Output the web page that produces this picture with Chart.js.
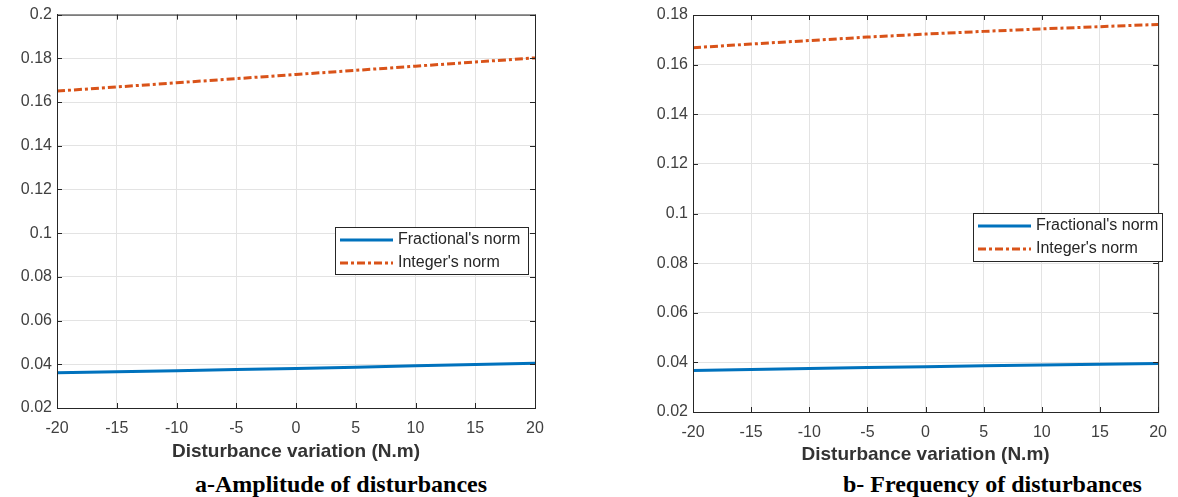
<!DOCTYPE html>
<html>
<head>
<meta charset="utf-8">
<script src="https://cdn.jsdelivr.net/npm/chart.js@4/dist/chart.umd.min.js"></script>
<style>
  body { margin: 0; background: #fff; width: 1178px; height: 497px; position: relative; overflow: hidden; }
  .box { position: absolute; top: 0; height: 470px; }
  .caption { position: absolute; top: 471px; font: bold 24px "Liberation Serif", "Times New Roman", serif; color: #000; white-space: nowrap; }
</style>
</head>
<body>
<div class="box" style="left:0;width:560px"><canvas id="chartA"></canvas></div>
<div class="box" style="left:600px;width:578px"><canvas id="chartB"></canvas></div>
<div class="caption" style="left:195px">a-Amplitude of disturbances</div>
<div class="caption" style="left:843px">b- Frequency of disturbances</div>
<script>
// disturbance variation (N.m)
const variation = [-20, -15, -10, -5, 0, 5, 10, 15, 20];

// a - amplitude of disturbances
const amplitudeFractional = [0.0361, 0.0366, 0.0371, 0.0376, 0.0381, 0.0387, 0.0393, 0.0399, 0.0405];
const amplitudeInteger = [0.1650, 0.1669, 0.1688, 0.1707, 0.1726, 0.1745, 0.1764, 0.1783, 0.1802];

// b - frequency of disturbances
const frequencyFractional = [0.0367, 0.0371, 0.0375, 0.0379, 0.0382, 0.0386, 0.0389, 0.0392, 0.0395];
const frequencyInteger = [0.1668, 0.1683, 0.1697, 0.1711, 0.1723, 0.1734, 0.1744, 0.1753, 0.1762];

const seriesNames = ["Fractional's norm", "Integer's norm"];
const xTitle = 'Disturbance variation (N.m)';

const BLUE = '#0072BD';
const ORANGE = '#D95319';
const AXIS = '#262626';

// box around the axes + inward ticks, like matlab
const framePlugin = {
  id: 'frame',
  afterDatasetsDraw(chart) {
    const { ctx, chartArea: a, scales } = chart;
    ctx.save();
    ctx.strokeStyle = AXIS;
    ctx.lineWidth = 1;
    ctx.strokeRect(a.left + 0.5, a.top + 0.5, a.right - a.left, a.bottom - a.top);
    ctx.beginPath();
    scales.x.ticks.forEach(t => {
      const px = Math.round(scales.x.getPixelForValue(t.value)) + 0.5;
      ctx.moveTo(px, a.bottom); ctx.lineTo(px, a.bottom - 5);
      ctx.moveTo(px, a.top); ctx.lineTo(px, a.top + 5);
    });
    scales.y.ticks.forEach(t => {
      const py = Math.round(scales.y.getPixelForValue(t.value)) + 0.5;
      ctx.moveTo(a.left, py); ctx.lineTo(a.left + 5, py);
      ctx.moveTo(a.right, py); ctx.lineTo(a.right - 5, py);
    });
    ctx.stroke();
    ctx.restore();
  }
};

// legend drawn inside the plot area
const boxLegend = {
  id: 'boxLegend',
  afterDraw(chart, args, opts) {
    const { ctx } = chart;
    const { x, y, w, h } = opts;
    ctx.save();
    ctx.fillStyle = '#fff';
    ctx.fillRect(x, y, w, h);
    ctx.strokeStyle = AXIS;
    ctx.lineWidth = 1;
    ctx.strokeRect(x + 0.5, y + 0.5, w, h);
    chart.data.datasets.forEach((ds, i) => {
      const cy = y + 13 + i * 23;
      ctx.beginPath();
      ctx.strokeStyle = ds.borderColor;
      ctx.lineWidth = ds.borderWidth;
      ctx.setLineDash(ds.borderDash || []);
      ctx.moveTo(x + 5, cy);
      ctx.lineTo(x + 58, cy);
      ctx.stroke();
      ctx.setLineDash([]);
      ctx.fillStyle = AXIS;
      ctx.font = '16px "Liberation Sans", Arial, sans-serif';
      ctx.textBaseline = 'middle';
      ctx.fillText(ds.label, x + 63, cy);
    });
    ctx.restore();
  }
};

function makeChart(id, fractional, integer, yMax, geom) {
  const ctx = document.getElementById(id).getContext('2d');
  return new Chart(ctx, {
    type: 'line',
    data: {
      labels: variation,
      datasets: [
        {
          label: seriesNames[0],
          data: variation.map((v, i) => ({ x: v, y: fractional[i] })),
          borderColor: BLUE,
          borderWidth: 3,
          pointRadius: 0,
        },
        {
          label: seriesNames[1],
          data: variation.map((v, i) => ({ x: v, y: integer[i] })),
          borderColor: ORANGE,
          borderWidth: 3,
          borderDash: [8, 3, 3, 3],
          pointRadius: 0,
        },
      ],
    },
    options: {
      responsive: false,
      animation: false,
      maintainAspectRatio: false,
      layout: { padding: { top: geom.top, right: geom.right, left: 0, bottom: 0 } },
      scales: {
        x: {
          type: 'linear',
          min: -20,
          max: 20,
          ticks: {
            stepSize: 5,
            padding: 11,
            color: '#404040',
            font: { family: '"Liberation Sans", Arial, sans-serif', size: 16 },
          },
          grid: { color: '#e3e3e3', drawTicks: false },
          border: { color: AXIS },
          title: {
            display: true,
            text: xTitle,
            color: '#333',
            font: { family: '"Liberation Sans", Arial, sans-serif', size: 19, weight: 'bold' },
            padding: { top: 0, bottom: geom.titlePad },
          },
          afterFit: (s) => { s.height = geom.xHeight; },
        },
        y: {
          min: 0.02,
          max: yMax,
          ticks: {
            stepSize: 0.02,
            padding: 5,
            color: '#404040',
            font: { family: '"Liberation Sans", Arial, sans-serif', size: 16 },
            callback: (v) => String(parseFloat(v.toFixed(2))),
          },
          grid: { color: '#e3e3e3', drawTicks: false },
          border: { color: AXIS },
          afterFit: (s) => { s.width = geom.yWidth; },
        },
      },
      plugins: {
        legend: { display: false },
        tooltip: { enabled: false },
        boxLegend: geom.legend,
      },
    },
    plugins: [framePlugin, boxLegend],
  });
}

const cA = document.getElementById('chartA');
cA.width = 560; cA.height = 470;
const cB = document.getElementById('chartB');
cB.width = 578; cB.height = 470;

makeChart('chartA', amplitudeFractional, amplitudeInteger, 0.2, {
  top: 14, right: 25, yWidth: 57, xHeight: 62, titlePad: 7,
  legend: { x: 335, y: 227, w: 193, h: 47 },
});
makeChart('chartB', frequencyFractional, frequencyInteger, 0.18, {
  top: 15, right: 15, yWidth: 93, xHeight: 58, titlePad: 4,
  legend: { x: 373, y: 213, w: 189, h: 48 },
});
</script>
</body>
</html>
